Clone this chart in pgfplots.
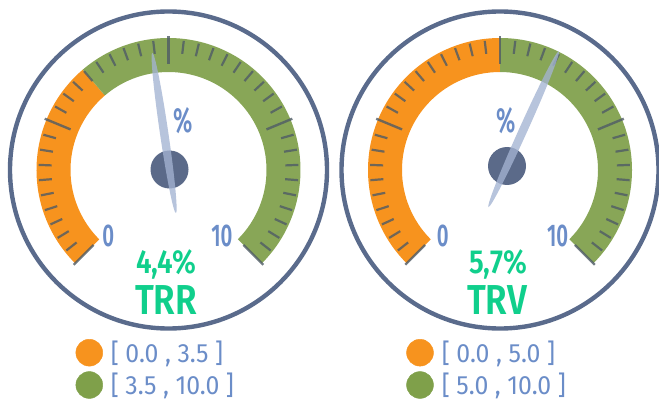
\documentclass[border=0pt]{standalone}
\usepackage{pgfplots}
\pgfplotsset{compat=1.18}
\usepackage{fontspec}
\setmainfont{Fira Sans}
\newfontfamily\labfont{Fira Sans SemiBold}[FakeStretch=0.65]
\newfontfamily\valfont{Fira Sans SemiBold}[FakeStretch=0.84]
\newfontfamily\legfont{Fira Sans}[FakeStretch=0.94]
\definecolor{gOrange}{HTML}{F7931E}
\definecolor{gGreen}{HTML}{88A657}
\definecolor{gLegGreen}{HTML}{7FA04A}
\definecolor{gRing}{HTML}{5A6B8C}
\definecolor{gHub}{HTML}{5B6A89}
\definecolor{gNeedle}{HTML}{A3B3D2}
\definecolor{gLabel}{HTML}{6B8DC8}
\definecolor{gValue}{HTML}{10CF8C}
\definecolor{gTick}{HTML}{4F5B66}
% gauge scale: value v (0..10) -> angle 225-27v
% #1 centre x, #2 split value (orange -> green)
\newcommand\gaugebody[2]{%
  \begin{scope}[shift={(axis cs:#1,230)}]
    \draw[gRing,line width=4.4bp] (0,0) circle[radius=158.5bp];
    \fill[gOrange] (225:132bp) arc[start angle=225,end angle={225-27*#2},radius=132bp]
      -- ({225-27*#2}:98bp) arc[start angle={225-27*#2},end angle=225,radius=98bp] -- cycle;
    \fill[gGreen] ({225-27*#2}:132bp) arc[start angle={225-27*#2},end angle=-45,radius=132bp]
      -- (-45:98bp) arc[start angle=-45,end angle={225-27*#2},radius=98bp] -- cycle;
    \pgfplotsinvokeforeach{1,2,3,4,5,6,7,8,9,11,12,13,14,15,16,17,18,19,21,22,23,24,25,26,27,28,29,31,32,33,34,35,36,37,38,39}{%
      \draw[gTick,opacity=.8,line width=2.2bp] ({225-6.75*##1}:117bp) -- ({225-6.75*##1}:130bp);}
    \pgfplotsinvokeforeach{0,10,20,30,40}{%
      \draw[gTick,opacity=.8,line width=2.4bp] ({225-6.75*##1}:106bp) -- ({225-6.75*##1}:134bp);}
  \end{scope}}
% #1 hub x, #2 hub y, #3 needle value, #4 tip length, #5 tail length
\newcommand\gaugeneedle[5]{%
  \fill[gHub] (axis cs:#1,#2) circle[radius=19bp];
  \begin{scope}[shift={(axis cs:#1,#2)},rotate={225-27*#3}]
    \fill[gNeedle,opacity=.78] ({(#4-#5)/2*1bp},0) ellipse[x radius={(#4+#5)/2*1bp},y radius=4.2bp];
  \end{scope}}
\begin{document}
\begin{tikzpicture}
\begin{axis}[width=659bp,height=400bp,scale only axis,xmin=0,xmax=659,ymin=0,ymax=400,
  hide axis,clip=false]
% ---- gauge TRR: value 4.4, ranges [0,3.5] [3.5,10]
\gaugebody{168.5}{3.5}
\gaugeneedle{169.5}{230.5}{4.69}{118}{44}
\node[gLabel,inner sep=0,anchor=base,font=\labfont\fontsize{31.5}{31.5}\selectfont] at (axis cs:108.3,153.3) {0};
\node[gLabel,inner sep=0,anchor=base,font=\labfont\fontsize{31.5}{31.5}\selectfont] at (axis cs:222,153.3) {10};
\node[gLabel,inner sep=0,anchor=base,font=\labfont\fontsize{35}{35}\selectfont] at (axis cs:183.3,267.3) {\%};
\node[gValue,inner sep=0,anchor=base,font=\valfont\fontsize{33.4}{33.4}\selectfont] at (axis cs:166,126.7) {4,4\%};
\node[gValue,inner sep=0,anchor=base,font=\valfont\fontsize{42}{42}\selectfont] at (axis cs:166,86) {TRR};
% ---- gauge TRV: value 5.7, ranges [0,5] [5,10]
\gaugebody{500}{5.0}
\gaugeneedle{507}{234}{5.9}{126}{45}
\node[gLabel,inner sep=0,anchor=base,font=\labfont\fontsize{31.5}{31.5}\selectfont] at (axis cs:442.7,153.3) {0};
\node[gLabel,inner sep=0,anchor=base,font=\labfont\fontsize{31.5}{31.5}\selectfont] at (axis cs:557.7,153.3) {10};
\node[gLabel,inner sep=0,anchor=base,font=\labfont\fontsize{35}{35}\selectfont] at (axis cs:505.7,267.3) {\%};
\node[gValue,inner sep=0,anchor=base,font=\valfont\fontsize{33.4}{33.4}\selectfont] at (axis cs:498.3,126.7) {5,7\%};
\node[gValue,inner sep=0,anchor=base,font=\valfont\fontsize{42}{42}\selectfont] at (axis cs:497,86) {TRV};
% ---- legends
\addplot[only marks,mark=*,mark size=13.5,gOrange,mark options={draw=none}] coordinates {(89.3,47.3) (420,47.3)};
\addplot[only marks,mark=*,mark size=13.5,gLegGreen,mark options={draw=none}] coordinates {(89.3,15) (420,15)};
\node[gLabel,inner sep=0,anchor=base west,font=\legfont\fontsize{26.5}{26.5}\selectfont] at (axis cs:110.7,37.5) {[ 0.0 , 3.5 ]};
\node[gLabel,inner sep=0,anchor=base west,font=\legfont\fontsize{26.5}{26.5}\selectfont] at (axis cs:110.7,5.8) {[ 3.5 , 10.0 ]};
\node[gLabel,inner sep=0,anchor=base west,font=\legfont\fontsize{26.5}{26.5}\selectfont] at (axis cs:441.7,37.5) {[ 0.0 , 5.0 ]};
\node[gLabel,inner sep=0,anchor=base west,font=\legfont\fontsize{26.5}{26.5}\selectfont] at (axis cs:441.7,5.8) {[ 5.0 , 10.0 ]};
\end{axis}
\pgfresetboundingbox
\useasboundingbox (0,0) rectangle (659bp,400bp);
\end{tikzpicture}
\end{document}
